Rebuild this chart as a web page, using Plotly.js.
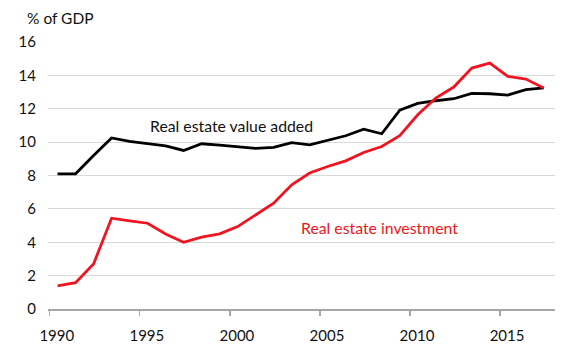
<!DOCTYPE html>
<html>
<head>
<meta charset="utf-8">
<script src="https://cdn.plot.ly/plotly-3.0.1.min.js"></script>
<style>html,body{margin:0;padding:0;background:#fff;}#chart{width:580px;height:352px;}</style>
</head>
<body>
<div id="chart"></div>
<script>
const years = [1990,1991,1992,1993,1994,1995,1996,1997,1998,1999,2000,2001,2002,2003,2004,2005,2006,2007,2008,2009,2010,2011,2012,2013,2014,2015,2016,2017];
const valueAdded = [8.1,8.1,9.2,10.25,10.05,9.9,9.78,9.5,9.9,9.82,9.7,9.62,9.68,9.97,9.84,10.1,10.38,10.78,10.5,11.92,12.32,12.48,12.6,12.92,12.9,12.82,13.14,13.25];
const investment = [1.38,1.58,2.7,5.44,5.28,5.14,4.5,4.0,4.3,4.5,4.94,5.64,6.34,7.44,8.15,8.54,8.88,9.38,9.74,10.38,11.64,12.64,13.3,14.44,14.74,13.94,13.78,13.25];
const xTicks = [1990,1995,2000,2005,2010,2015];
const yTicks = [0,2,4,6,8,10,12,14,16];
const unitLabel = '% of GDP';
const seriesNames = ['Real estate value added','Real estate investment'];

// observations are plotted at mid-year
const xs = years.map(y => y + 0.43);
const FONT = 'Lato, "Open Sans", sans-serif';
const TXT = '#111111';
const RED = '#ee1520';

const traces = [
  {x: xs, y: valueAdded, type: 'scatter', mode: 'lines', name: seriesNames[0],
   line: {color: '#000000', width: 2.8}},
  {x: xs, y: investment, type: 'scatter', mode: 'lines', name: seriesNames[1],
   line: {color: RED, width: 2.8}}
];

const layout = {
  width: 580, height: 352,
  margin: {l: 48, r: 25, t: 42, b: 43},
  paper_bgcolor: '#ffffff', plot_bgcolor: '#ffffff',
  showlegend: false,
  font: {family: FONT, size: 15, color: TXT},
  xaxis: {
    range: [1989.9, 2018.05], tickvals: xTicks, ticktext: xTicks.map(String),
    showgrid: false, zeroline: false,
    showline: true, linecolor: '#a6a6a6', linewidth: 1.5,
    ticks: 'outside', ticklen: 5, tickcolor: '#a6a6a6', tickwidth: 1.2,
    ticklabelshift: 7, ticklabelstandoff: 7,
    tickfont: {family: FONT, size: 15, color: TXT}
  },
  yaxis: {
    range: [0, 16], tickvals: yTicks, ticktext: yTicks.map(String),
    showgrid: true, gridcolor: '#d9d9d9', gridwidth: 1.2,
    zeroline: false, showline: false, ticks: '',
    ticklabelstandoff: 11,
    tickfont: {family: FONT, size: 15, color: TXT}
  },
  annotations: [
    {xref: 'paper', yref: 'paper', x: -0.045, y: 1.05, xanchor: 'left', yanchor: 'bottom',
     text: unitLabel, showarrow: false, font: {family: FONT, size: 15.5, color: TXT}},
    {xref: 'x', yref: 'y', x: 2000.1, y: 10.98, xanchor: 'center', yanchor: 'middle',
     text: seriesNames[0], showarrow: false, font: {family: FONT, size: 15.8, color: TXT}},
    {xref: 'x', yref: 'y', x: 2008.33, y: 4.86, xanchor: 'center', yanchor: 'middle',
     text: seriesNames[1], showarrow: false, font: {family: FONT, size: 15.8, color: RED}}
  ]
};

Plotly.newPlot('chart', traces, layout, {staticPlot: true, displayModeBar: false});
</script>
</body>
</html>
